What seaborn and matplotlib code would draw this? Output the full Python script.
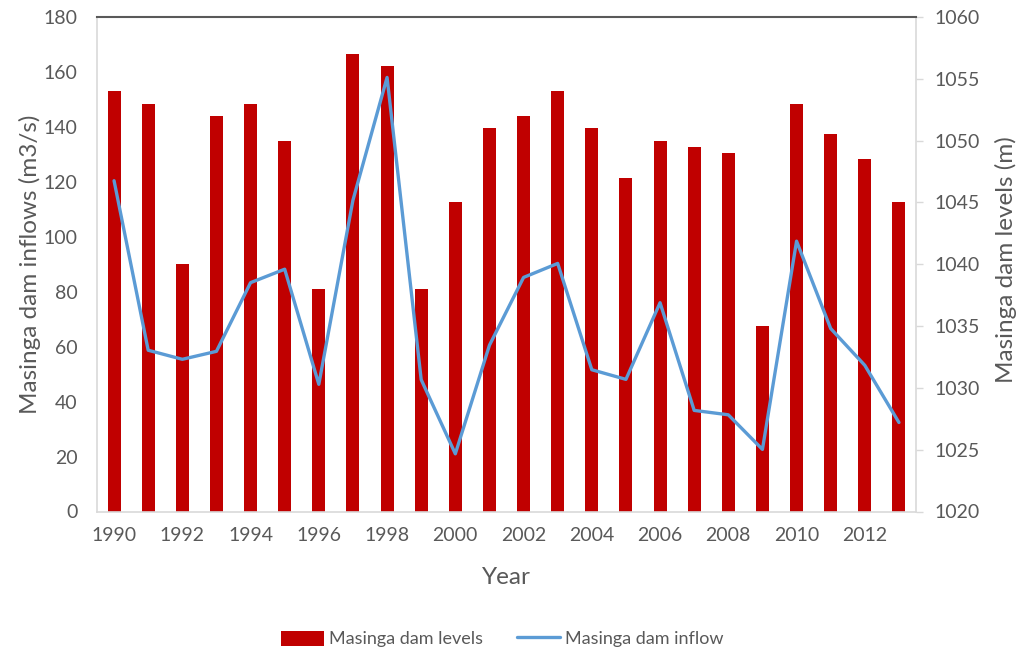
import matplotlib
matplotlib.use("Agg")
import numpy as np
import pandas as pd
import matplotlib.pyplot as plt
import seaborn as sns
from matplotlib.patches import Patch
from matplotlib.lines import Line2D

# ---- data ----
years = ["1990", "1991", "1992", "1993", "1994", "1995", "1996", "1997",
         "1998", "1999", "2000", "2001", "2002", "2003", "2004", "2005",
         "2006", "2007", "2008", "2009", "2010", "2011", "2012", "2013"]
dam_levels = [1054, 1053, 1040, 1052, 1053, 1050, 1038, 1057, 1056, 1038,
              1045, 1051, 1052, 1054, 1051, 1047, 1050, 1049.5, 1049, 1035,
              1053, 1050.5, 1048.5, 1045]
inflows = [120.4, 58.7, 55.4, 58.3, 83.3, 88.2, 46.3, 113.3, 158.0, 48.0,
           21.0, 60.5, 85.2, 90.3, 51.6, 48.1, 76.0, 36.8, 35.2, 22.6,
           98.4, 66.6, 53.2, 32.4]
left_ticks = [0, 20, 40, 60, 80, 100, 120, 140, 160, 180]
right_ticks = [1020, 1025, 1030, 1035, 1040, 1045, 1050, 1055, 1060]

df = pd.DataFrame({"year": years, "level": dam_levels, "inflow": inflows})
df["pos"] = np.arange(len(df))

BAR = "#C00000"
LINE = "#5B9BD5"
TXT = "#595959"
GRID = "#D9D9D9"

sns.set_theme(style="white")
plt.rcParams["font.family"] = ["Lato", "DejaVu Sans"]
plt.rcParams["text.color"] = TXT
plt.rcParams["axes.labelcolor"] = TXT
plt.rcParams["xtick.color"] = TXT
plt.rcParams["ytick.color"] = TXT

fig = plt.figure(figsize=(10.17, 6.52), dpi=100)
ax = fig.add_axes([97 / 1017, 1 - 511.5 / 652, (916 - 97) / 1017, (511.5 - 17) / 652])
ax2 = ax.twinx()

# bars: dam levels on right axis
sns.barplot(data=df, x="year", y="level", ax=ax2, color=BAR, saturation=1,
            width=0.38, linewidth=0)
# line: inflows on left axis
sns.lineplot(data=df, x="pos", y="inflow", ax=ax, color=LINE, linewidth=2.4)

ax.set_zorder(ax2.get_zorder() + 1)
ax.patch.set_visible(False)

ax.set_ylim(left_ticks[0], left_ticks[-1])
ax.set_yticks(left_ticks)
ax2.set_ylim(right_ticks[0], right_ticks[-1])
ax2.set_yticks(right_ticks)
ax.set_xlim(-0.5, len(df) - 0.5)
ax.set_xticks(df["pos"][::2], labels=df["year"][::2])

ax.tick_params(axis="x", length=0, pad=11, labelsize=14)
ax.tick_params(axis="y", length=0, pad=14, labelsize=14)
ax2.tick_params(axis="y", length=5, width=1, color=GRID, pad=8, labelsize=14,
                direction="out")

for s in ["left", "bottom"]:
    ax.spines[s].set_color(GRID)
    ax.spines[s].set_linewidth(1.2)
ax.spines["top"].set_color(TXT)
ax.spines["top"].set_linewidth(1.5)
ax.spines["right"].set_visible(False)
for s in ["left", "bottom", "top"]:
    ax2.spines[s].set_visible(False)
ax2.spines["right"].set_color(GRID)
ax2.spines["right"].set_linewidth(1.2)

ax.set_xlabel("Year", fontsize=17.5)
ax.xaxis.set_label_coords(0.5, -0.112)
ax.set_ylabel("Masinga dam inflows (m3/s)", fontsize=17.5)
ax.yaxis.set_label_coords(-0.0685, 0.5)
ax2.set_ylabel("Masinga dam levels (m)", fontsize=17.5)
ax2.yaxis.set_label_coords(1.0965, 0.51)
ax2.set_xlabel("")

handles = [Patch(facecolor=BAR, edgecolor="none", label="Masinga dam levels"),
           Line2D([0], [0], color=LINE, lw=2.4, label="Masinga dam inflow")]
fig.legend(handles=handles, loc="center", bbox_to_anchor=(0.4936, 0.02),
           ncol=2, frameon=False, fontsize=13, handlelength=2.4,
           handleheight=0.9, handletextpad=0.25, columnspacing=1.9)

fig.savefig("out.png", dpi=100, facecolor="white")
